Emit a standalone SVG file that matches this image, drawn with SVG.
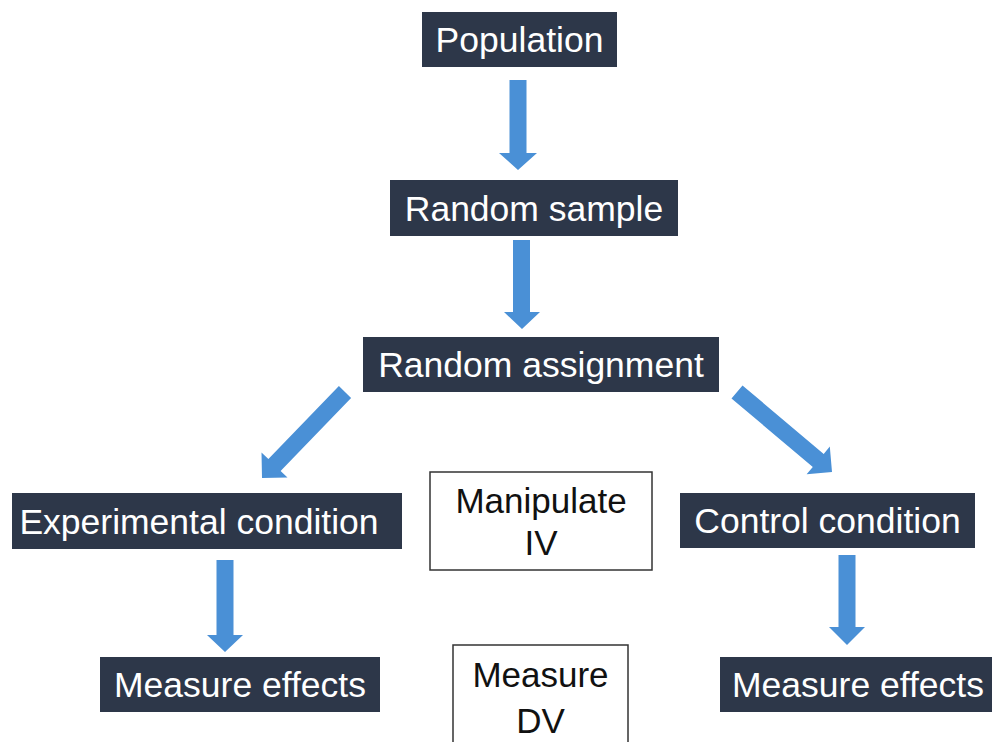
<svg xmlns="http://www.w3.org/2000/svg" width="992" height="742" viewBox="0 0 992 742">
<style>
.dark{fill:#2d3749}
.wt{fill:#ffffff;font-family:"Liberation Sans",Arial,sans-serif;font-size:35.5px;text-anchor:middle}
.bt{fill:#111111;font-family:"Liberation Sans",Arial,sans-serif;font-size:35px;text-anchor:middle}
.open{fill:#ffffff;stroke:#333333;stroke-width:1.5}
.arr{fill:#4a90d6}
</style>
<rect width="992" height="742" fill="#ffffff"/>
<g id="connectors">
<polygon class="arr" points="509.5,80 526.5,80 526.5,153 537,153 518,170 499,153 509.5,153"/>
<polygon class="arr" points="513,240 530,240 530,312 540,312 522,329 504,312 513,312"/>
<polygon class="arr" points="216.5,560 233.5,560 233.5,635 243,635 225,652 207,635 216.5,635"/>
<polygon class="arr" points="838.5,555 855.5,555 855.5,627 865,627 847,645 829,627 838.5,627"/>
<polygon class="arr" points="351.1,397.9 280.6,470.9 287.5,477.5 262,478 261.5,452.5 268.4,459.1 338.9,386.1"/>
<polygon class="arr" points="731.5,398.5 812.8,466.9 806.6,474.2 832,472 829.8,446.6 823.7,453.9 742.5,385.5"/>
</g>
<g id="population">
<rect class="dark" x="422" y="12" width="195" height="55"/>
<text class="wt" x="519.5" y="52">Population</text>
</g>
<g id="random-sample">
<rect class="dark" x="390" y="180" width="288" height="56"/>
<text class="wt" x="534" y="220.5">Random sample</text>
</g>
<g id="random-assignment">
<rect class="dark" x="363" y="337" width="356" height="55"/>
<text class="wt" x="541" y="377">Random assignment</text>
</g>
<g id="experimental-condition">
<rect class="dark" x="12" y="493" width="390" height="56"/>
<text class="wt" x="199" y="533.5">Experimental condition</text>
</g>
<g id="control-condition">
<rect class="dark" x="680" y="493" width="295" height="55"/>
<text class="wt" x="827.5" y="533">Control condition</text>
</g>
<g id="manipulate-iv">
<rect class="open" x="430" y="472" width="222" height="98"/>
<text class="bt" x="541" y="513">Manipulate</text>
<text class="bt" x="541" y="555">IV</text>
</g>
<g id="measure-effects-left">
<rect class="dark" x="100" y="657" width="280" height="55"/>
<text class="wt" x="240" y="697">Measure effects</text>
</g>
<g id="measure-dv">
<rect class="open" x="453" y="645" width="175" height="110"/>
<text class="bt" x="540.5" y="687">Measure</text>
<text class="bt" x="540.5" y="733">DV</text>
</g>
<g id="measure-effects-right">
<rect class="dark" x="720" y="657" width="275" height="55"/>
<text class="wt" x="858" y="697">Measure effects</text>
</g>
</svg>
